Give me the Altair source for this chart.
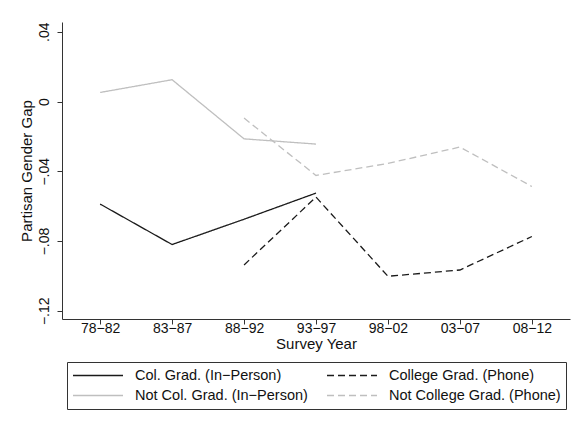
import altair as alt
import pandas as pd

periods = ["78−82", "83−87", "88−92", "93−97", "98−02", "03−07", "08−12"]
series_names = [
    "Col. Grad. (In−Person)",
    "College Grad. (Phone)",
    "Not Col. Grad. (In−Person)",
    "Not College Grad. (Phone)",
]
col_inperson = [-0.0588, -0.0820, -0.0675, -0.0525, None, None, None]
col_phone = [None, None, -0.0937, -0.0548, -0.1002, -0.0966, -0.0774]
notcol_inperson = [0.0052, 0.0125, -0.0214, -0.0244, None, None, None]
notcol_phone = [None, None, -0.0095, -0.0424, -0.0355, -0.0261, -0.0487]

y_ticks = [-0.12, -0.08, -0.04, 0.0, 0.04]
y_tick_labels = ["−.12", "−.08", "−.04", "0", ".04"]

rows = []
for name, vals in zip(series_names, [col_inperson, col_phone, notcol_inperson, notcol_phone]):
    for p, v in zip(periods, vals):
        if v is not None:
            rows.append({"period": p, "gap": v, "series": name})
df = pd.DataFrame(rows)

label_expr = " : ".join(
    f"abs(datum.value - ({v})) < 1e-6 ? '{l}'" for v, l in zip(y_ticks, y_tick_labels)
) + " : ''"

FONT = "Liberation Sans"

legend_kw = dict(
    title=None,
    orient="none",
    direction="horizontal",
    legendX=5,
    legendY=340,
    columns=2,
    columnPadding=18,
    rowPadding=3,
    clipHeight=17,
    symbolType="stroke",
    symbolSize=2500,
    symbolStrokeWidth=1.3,
    labelOffset=11,
    labelLimit=400,
    strokeColor="#333333",
    padding=5,
    labelFont=FONT,
    labelFontSize=14.5,
    labelColor="#111111",
)

chart = alt.Chart(df).mark_line(strokeWidth=1.3).encode(
    x=alt.X(
        "period:O",
        sort=periods,
        scale=alt.Scale(type="point", padding=0.53),
        axis=alt.Axis(
            title="Survey Year",
            labelAngle=0,
            tickSize=5,
            labelPadding=-3,
            titlePadding=1,
            domainColor="#333333",
            tickColor="#333333",
        ),
    ),
    y=alt.Y(
        "gap:Q",
        scale=alt.Scale(domain=[-0.1247, 0.0456], nice=False, zero=False),
        axis=alt.Axis(
            title="Partisan Gender Gap",
            values=y_ticks,
            labelExpr=label_expr,
            labelAngle=270,
            labelAlign="center",
            labelBaseline="bottom",
            tickSize=5,
            labelPadding=6,
            titlePadding=3,
            grid=False,
            domainColor="#333333",
            tickColor="#333333",
        ),
    ),
    color=alt.Color(
        "series:N",
        sort=series_names,
        scale=alt.Scale(domain=series_names, range=["#1a1a1a", "#1a1a1a", "#bfbfbf", "#bfbfbf"]),
        legend=alt.Legend(**legend_kw),
    ),
    strokeDash=alt.StrokeDash(
        "series:N",
        sort=series_names,
        scale=alt.Scale(domain=series_names, range=[[1, 0], [7, 4], [1, 0], [7, 4]]),
        legend=alt.Legend(**legend_kw),
    ),
    detail="series:N",
).properties(
    width=508,
    height=297,
    autosize=alt.AutoSizeParams(type="none"),
    padding={"left": 54, "top": 14, "right": 1, "bottom": 101},
).configure_view(
    strokeWidth=0
).configure_axis(
    labelFont=FONT,
    titleFont=FONT,
    labelFontSize=14,
    titleFontSize=15,
    titleFontWeight="normal",
    labelColor="#111111",
    titleColor="#111111",
)

chart.save("out.html", embed_options={"renderer": "svg", "actions": False})
